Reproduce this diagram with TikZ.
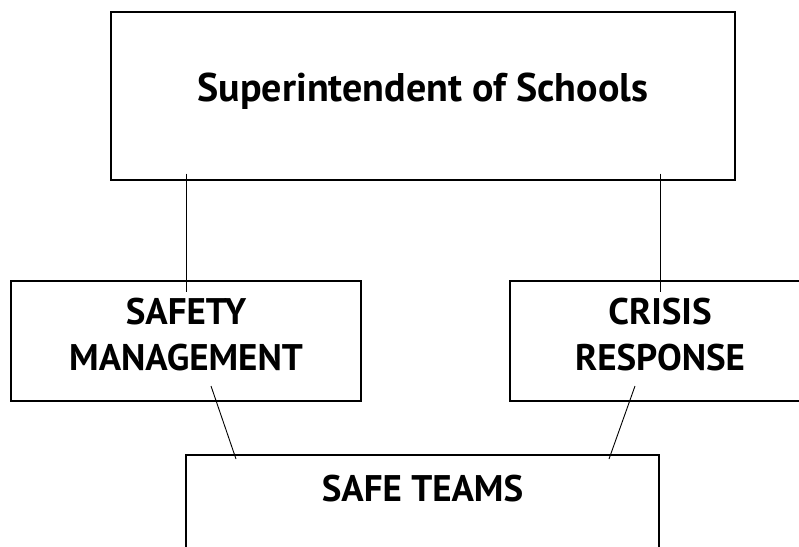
\documentclass[tikz,border=0pt]{standalone}
\usepackage{fontspec}
\setmainfont{PT Sans}
\begin{document}
\begin{tikzpicture}[x=1pt, y=-1pt,
  box/.style={shape=rectangle, draw=black, line width=1.3pt},
  boxtext/.style={align=center, font=\bfseries\fontsize{37}{46}\selectfont},
  link/.style={draw=black, line width=0.9pt}]
\clip (0,0) rectangle (799,546);
\node[box, minimum width=624pt, minimum height=168pt, label={[boxtext, font=\bfseries\fontsize{40}{46}\selectfont, yshift=4.5pt]center:Superintendent of Schools}](0) at (423,96) {};
\node[box, minimum width=350pt, minimum height=120pt, label={[boxtext, yshift=6pt]center:{SAFETY\\MANAGEMENT}}](1) at (186,341) {};
\node[box, minimum width=300pt, minimum height=120pt, label={[boxtext, yshift=6pt]center:{CRISIS\\RESPONSE}}](2) at (660,341) {};
\node[box, minimum width=473pt, minimum height=140pt, label={[boxtext, yshift=36pt]center:SAFE TEAMS}](3) at (422.5,525) {};
% connectors
\coordinate (1a) at (211,386);
\coordinate (3a) at (236,459);
\coordinate (2a) at (635,386);
\coordinate (3b) at (609,459);
\draw[link, shorten <=-7pt, shorten >=-12pt] (0.south -| 1.center) -- (1.north);
\draw[link, shorten <=-7pt, shorten >=-12pt] (0.south -| 2.center) -- (2.north);
\draw[link] (1a) -- (3a);
\draw[link] (2a) -- (3b);
\end{tikzpicture}
\end{document}
